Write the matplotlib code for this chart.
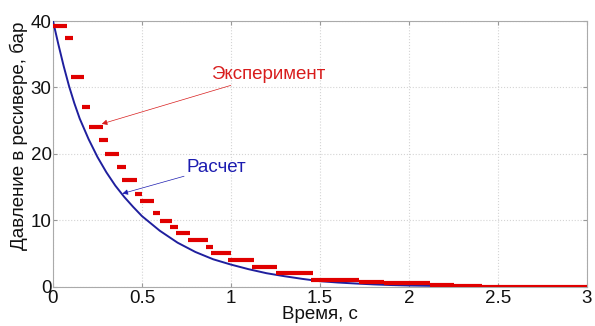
import matplotlib
matplotlib.use('Agg')
import matplotlib.pyplot as plt

# calculated pressure curve
calc_t = [0.0, 0.03, 0.06, 0.09, 0.12, 0.15, 0.2, 0.25, 0.3, 0.35, 0.4, 0.45, 0.5,
          0.6, 0.7, 0.8, 0.9, 1.0, 1.1, 1.2, 1.3, 1.4, 1.5, 1.6, 1.7, 1.8, 1.9,
          2.0, 2.2, 2.5, 3.0]
calc_p = [40.0, 36.5, 33.2, 30.2, 27.6, 25.3, 22.2, 19.5, 17.2, 15.2, 13.5, 12.0, 10.6,
          8.4, 6.6, 5.2, 4.1, 3.3, 2.6, 2.0, 1.55, 1.15, 0.8, 0.6, 0.45, 0.32, 0.22,
          0.15, 0.07, 0.02, 0.0]

# experiment: pressure steps (level, start time, end time)
exp_p = [39.2, 37.4, 31.6, 27.1, 24.0, 22.0, 20.0, 18.0, 16.0, 14.0, 12.9, 11.0,
         9.9, 8.9, 8.0, 7.0, 5.9, 5.0, 4.0, 3.0, 2.0, 1.0, 0.65, 0.5, 0.25, 0.12, 0.0]
exp_t0 = [0.0, 0.067, 0.10, 0.165, 0.20, 0.26, 0.29, 0.36, 0.39, 0.46, 0.49, 0.56,
          0.60, 0.66, 0.69, 0.76, 0.86, 0.89, 0.985, 1.12, 1.25, 1.45, 1.72, 1.86,
          2.12, 2.25, 2.41]
exp_t1 = [0.077, 0.114, 0.176, 0.21, 0.28, 0.31, 0.37, 0.41, 0.47, 0.50, 0.57, 0.60,
          0.67, 0.70, 0.77, 0.87, 0.90, 1.0, 1.13, 1.26, 1.46, 1.72, 1.86, 2.12,
          2.25, 2.41, 3.0]

x_ticks = [0, 0.5, 1, 1.5, 2, 2.5, 3]
x_tick_labels = ['0', '0.5', '1', '1.5', '2', '2.5', '3']
y_ticks = [0, 10, 20, 30, 40]

plt.rcParams['font.family'] = ['Liberation Sans', 'DejaVu Sans']

fig = plt.figure(figsize=(5.95, 3.26), dpi=100)
ax = fig.add_axes([53 / 595, 1 - 286.5 / 326, 534 / 595, 265.5 / 326])

ax.plot(calc_t, calc_p, color='#1f1f9e', lw=1.4, zorder=3)
ax.hlines(exp_p, exp_t0, exp_t1, colors='#e00000', lw=3.0, capstyle='butt', zorder=4)

ax.annotate('Эксперимент', xy=(0.274, 24.5), xytext=(0.89, 32.0),
            color='#d81c1c', fontsize=13.5, ha='left', va='center',
            arrowprops=dict(arrowstyle='-|>', color='#d81c1c', lw=0.5,
                            mutation_scale=8, shrinkA=0, shrinkB=0))
ax.annotate('Расчет', xy=(0.39, 14.0), xytext=(0.752, 18.0),
            color='#1c1cb0', fontsize=13.5, ha='left', va='center',
            arrowprops=dict(arrowstyle='-|>', color='#1c1cb0', lw=0.5,
                            mutation_scale=8, shrinkA=0, shrinkB=0))

ax.set_xlim(0, 3)
ax.set_ylim(0, 40)
ax.set_xticks(x_ticks)
ax.set_xticklabels(x_tick_labels)
ax.set_yticks(y_ticks)
ax.grid(True, color='#d4d4d4', linestyle=':', lw=0.8)
ax.tick_params(direction='in', length=3, color='#999999', labelsize=13.5,
               labelcolor='#111111', top=True, right=True)
ax.tick_params(axis='x', pad=2.5)
ax.tick_params(axis='y', pad=1)
for s in ax.spines.values():
    s.set_color('#aaaaaa')
    s.set_linewidth(0.8)

ax.set_xlabel('Время, с', fontsize=13.5, color='#111111', labelpad=-1)
ax.set_ylabel('Давление в ресивере, бар', fontsize=13.5, color='#111111')
ax.yaxis.set_label_coords(-0.046, 0.569)

fig.savefig('out.png', dpi=100)
